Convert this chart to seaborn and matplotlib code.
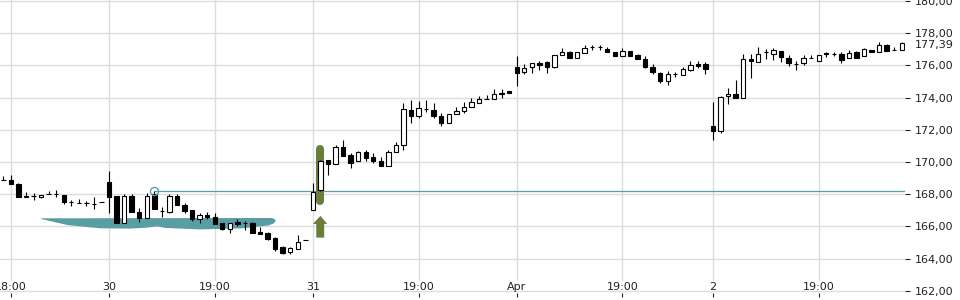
import numpy as np
import pandas as pd
import matplotlib
matplotlib.use("Agg")
import matplotlib.pyplot as plt
import seaborn as sns
from matplotlib.patches import Polygon
from matplotlib.transforms import blended_transform_factory

# ---------------- data ----------------
opens = [168.88, 168.88, 168.63, 167.85, 167.91, 167.81, 167.99, 167.99, 167.95, 167.49,
         167.43, 167.43, 167.39, 167.49, 168.74, 167.89, 166.23, 167.89, 166.91, 166.54,
         167.99, 166.97, 166.91, 167.89, 167.33, 167.02, 166.46, 166.73, 166.60, 166.19,
         165.82, 166.29, 166.19, 166.19, 165.67, 165.57, 165.26, 164.70, 164.41, 164.62,
         165.14, 167.02, 168.26, 170.12, 169.88, 170.95, 170.41, 170.06, 170.64, 170.29,
         170.08, 169.77, 170.60, 171.06, 173.23, 172.88, 173.30, 173.23, 172.88, 172.40,
         172.98, 173.19, 173.40, 173.68, 173.89, 173.89, 174.30, 174.38, 175.92, 175.61,
         175.88, 176.13, 176.21, 175.92, 176.67, 176.81, 176.44, 176.79, 177.12, 177.12,
         177.02, 176.81, 176.60, 176.89, 176.65, 176.40, 175.92, 175.51, 175.05, 175.45,
         175.40, 175.71, 176.08, 176.07, 172.25, 171.94, 174.08, 174.22, 173.96, 176.40,
         176.23, 176.85, 176.71, 176.89, 176.44, 176.09, 176.13, 176.44, 176.29, 176.75,
         176.72, 176.69, 176.44, 176.81, 176.60, 176.98, 176.85, 177.27, 176.96, 176.96]
highs = [169.15, 169.19, 168.70, 168.12, 168.06, 167.97, 168.20, 168.26, 167.97, 167.66,
         167.70, 167.58, 167.81, 167.49, 169.44, 167.89, 168.00, 168.01, 167.12, 168.06,
         168.20, 167.18, 168.00, 168.01, 167.43, 167.04, 166.85, 166.89, 166.85, 166.21,
         166.23, 166.44, 166.35, 166.29, 165.98, 165.67, 165.36, 164.79, 164.74, 165.47,
         165.14, 168.71, 170.10, 170.12, 171.06, 171.37, 170.58, 170.68, 170.75, 170.54,
         170.33, 170.75, 171.26, 173.65, 173.85, 173.81, 173.85, 173.68, 173.02, 172.98,
         173.40, 173.73, 173.96, 174.12, 174.16, 174.52, 174.55, 174.38, 176.58, 176.07,
         176.13, 176.29, 176.27, 176.65, 177.06, 176.91, 176.81, 177.27, 177.27, 177.27,
         177.12, 176.81, 177.06, 176.89, 176.73, 176.58, 176.07, 175.61, 175.65, 175.61,
         175.90, 176.27, 176.27, 176.19, 173.75, 174.10, 174.61, 175.09, 176.71, 176.69,
         177.12, 177.02, 177.06, 176.89, 176.65, 176.27, 176.65, 176.65, 176.65, 176.81,
         176.81, 176.81, 176.96, 176.89, 177.10, 176.98, 177.47, 177.33, 177.16, 177.47]
lows = [168.88, 168.62, 167.85, 167.85, 167.64, 167.79, 167.99, 167.85, 167.37, 167.25,
        167.43, 167.28, 167.06, 167.49, 166.85, 166.23, 166.23, 166.88, 166.29, 166.54,
        167.06, 166.56, 166.83, 167.33, 166.85, 166.35, 166.23, 166.44, 166.13, 165.80,
        165.61, 166.04, 165.78, 165.61, 165.51, 165.16, 164.49, 164.29, 164.30, 164.58,
        165.14, 167.02, 168.20, 169.19, 169.88, 170.37, 169.61, 170.06, 170.08, 169.96,
        169.77, 169.77, 170.60, 170.75, 172.40, 172.71, 173.12, 172.71, 172.25, 172.40,
        172.98, 173.06, 173.40, 173.68, 173.89, 173.89, 173.96, 174.31, 174.74, 175.47,
        175.55, 175.71, 175.55, 175.82, 176.67, 176.44, 176.44, 176.79, 176.96, 176.96,
        176.81, 176.60, 176.60, 176.60, 176.38, 175.86, 175.45, 174.89, 174.78, 175.26,
        175.40, 175.65, 175.82, 175.47, 171.37, 171.82, 173.60, 173.99, 173.96, 175.20,
        176.23, 176.40, 176.34, 176.23, 175.98, 175.71, 176.02, 176.44, 176.29, 176.54,
        176.60, 176.13, 176.44, 176.48, 176.60, 176.85, 176.85, 176.89, 176.96, 176.96]
closes = [168.88, 168.62, 167.85, 167.86, 167.91, 167.95, 167.99, 167.99, 167.53, 167.49,
          167.43, 167.43, 167.39, 167.49, 167.85, 166.23, 167.89, 166.88, 166.54, 167.89,
          167.06, 166.97, 167.89, 167.33, 166.97, 166.44, 166.73, 166.56, 166.13, 165.82,
          166.23, 166.15, 166.19, 165.61, 165.51, 165.24, 164.60, 164.37, 164.64, 165.03,
          165.14, 168.16, 170.06, 169.88, 170.91, 170.37, 169.96, 170.60, 170.27, 170.08,
          169.77, 170.64, 171.06, 173.27, 172.88, 173.34, 173.26, 172.88, 172.40, 172.96,
          173.19, 173.42, 173.71, 173.89, 173.89, 174.22, 174.24, 174.31, 175.55, 175.82,
          176.13, 176.04, 175.92, 176.65, 176.81, 176.44, 176.81, 177.06, 177.12, 177.12,
          176.81, 176.60, 176.91, 176.60, 176.38, 175.92, 175.57, 175.05, 175.45, 175.45,
          175.78, 176.02, 175.98, 175.76, 171.94, 174.02, 174.22, 173.99, 176.40, 176.29,
          176.69, 176.85, 176.96, 176.54, 176.17, 176.09, 176.44, 176.44, 176.65, 176.72,
          176.72, 176.34, 176.75, 176.48, 177.02, 176.85, 177.27, 176.89, 176.96, 177.39]

xtick_pos = [1, 14, 28, 41, 55, 68, 82, 94, 108]
xtick_labels = ["18:00", "30", "19:00", "31", "19:00", "Apr", "19:00", "2", "19:00"]
ytick_vals = [162, 164, 166, 168, 170, 172, 174, 176, 178, 180]
last_price = 177.39
ref_level = 168.17
ref_idx = 20
signal_idx = 42

# annotation shapes (data coordinates)
zone_x = [5.0, 35.6, 36.1, 35.9, 35.1, 31.4, 26.0, 21.5, 20.4, 19.0, 16.8, 12.8, 8.5, 5.0]
zone_y = [166.50, 166.52, 166.40, 166.20, 166.05, 165.87, 165.81, 165.90, 166.00,
          165.92, 165.86, 165.88, 166.08, 166.46]
signal_bar_y = [167.58, 170.81]
arrow_x = [41.0, 42.0, 42.9, 42.5, 42.5, 41.45, 41.45]
arrow_y = [166.15, 166.65, 166.15, 166.15, 165.30, 165.30, 166.15]

# ---------------- style ----------------
sns.set_theme(style="white")
plt.rcParams["font.family"] = ["DejaVu Sans"]

df = pd.DataFrame({"o": opens, "h": highs, "l": lows, "c": closes})
df["idx"] = np.arange(len(df))
df["up"] = df["c"] >= df["o"]
df["bottom"] = df[["o", "c"]].min(axis=1)
df["height"] = (df["c"] - df["o"]).abs()

GRID = "#dcdcdc"
TEAL = "#5a9ea5"
OLIVE = "#6b7d3b"
FS = 8
TXT = "#222222"

fig = plt.figure(figsize=(9.6, 3.0), dpi=100)
ax = fig.add_axes([0, 7 / 300, 905 / 960, 293 / 300])
ax.set_xlim(-0.44, 119.43)
ax.set_ylim(161.86, 180.06)
ax.set_facecolor("white")

for y in ytick_vals:
    ax.axhline(y, color=GRID, lw=1, zorder=0)
for x in xtick_pos:
    ax.axvline(x, ymin=0.045, ymax=1, color=GRID, lw=1, zorder=0)

# zone blob
ax.add_patch(Polygon(list(zip(zone_x, zone_y)), closed=True, facecolor=TEAL,
                     edgecolor="none", zorder=1))
# reference level line and marker
ax.hlines(ref_level, ref_idx, 119.43, color=TEAL, lw=0.9, zorder=2)
ax.plot(ref_idx, df["h"][ref_idx], "o", mfc="none", mec=TEAL, ms=5.8, mew=1, zorder=5)

# signal highlight + arrow
ax.plot([signal_idx, signal_idx], signal_bar_y, color=OLIVE, lw=5.8,
        solid_capstyle="round", zorder=2)
ax.add_patch(Polygon(list(zip(arrow_x, arrow_y)), closed=True, facecolor=OLIVE,
                     edgecolor="none", zorder=2))

# candles
ax.vlines(df["idx"], df["l"], df["h"], color="black", lw=0.8, zorder=3)
ax.bar(df["idx"], df["height"], bottom=df["bottom"], width=0.58,
       color=np.where(df["up"], "white", "black"), edgecolor="black",
       linewidth=0.8, zorder=4)

# axes styling
sns.despine(ax=ax, left=True, bottom=True, right=True, top=True)
ax.yaxis.tick_right()
ax.set_yticks(ytick_vals)
ax.set_yticklabels([f"{v:.2f}".replace(".", ",") for v in ytick_vals])
ax.tick_params(axis="y", which="both", right=True, left=False, length=3.5, width=0.8,
               pad=3.5, color=TXT, labelsize=FS, labelcolor=TXT)
ax.set_xticks(xtick_pos)
ax.set_xticklabels([])
ax.tick_params(axis="x", bottom=True, length=3, width=0.8, color=TXT,
               direction="out", labelbottom=False)

tr = blended_transform_factory(ax.transData, ax.transAxes)
for p, lab in zip(xtick_pos, xtick_labels):
    ax.text(p, 0.021, lab, transform=tr, ha="center", va="center", fontsize=FS,
            color=TXT, clip_on=False)

ax.annotate(f"{last_price:.2f}".replace(".", ","), xy=(1, last_price),
            xycoords=("axes fraction", "data"), xytext=(7, -1.5),
            textcoords="offset points", ha="left", va="center", fontsize=FS,
            color=TXT, annotation_clip=False,
            bbox=dict(boxstyle="square,pad=0.1", facecolor="white", edgecolor="none"))

fig.savefig("out.png", dpi=100)
